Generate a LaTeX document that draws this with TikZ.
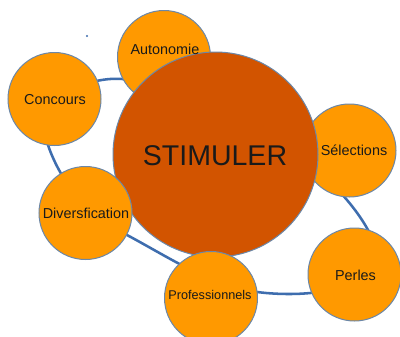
\documentclass[tikz,border=0pt]{standalone}
\usepackage{fontspec}
\setmainfont{Liberation Sans}
\definecolor{bubfill}{HTML}{FF9900}
\definecolor{bigfill}{HTML}{D25400}
\definecolor{bubedge}{HTML}{6B87A8}
\definecolor{ringblue}{HTML}{3E6DAE}
\definecolor{ink}{HTML}{1A1A1A}
\begin{document}
\begin{tikzpicture}[x=0.75pt,y=-0.75pt,
  bubble/.style={circle, draw=bubedge, line width=0.75pt, fill=bubfill, minimum size=69.75pt, inner sep=0pt},
  bigbubble/.style={circle, draw=bubedge, line width=0.75pt, fill=bigfill, minimum size=153.75pt, inner sep=0pt},
  lbl/.style={text=ink, font=\fontsize{10.8}{13}\selectfont, inner sep=0pt},
  ringline/.style={draw=ringblue, line width=1.9pt}]
\useasboundingbox (0,0) rectangle (400,336);
\fill[white] (0,0) rectangle (400,336);
% ring behind the bubbles
\draw[ringline] (110,79) .. controls (70,82) and (38,110) .. (48,145)
  .. controls (58,175) and (85,218) .. (127,235)
  .. controls (170,258) and (215,288) .. (257,292)
  .. controls (320,300) and (400,285) .. (368,230)
  .. controls (330,160) and (200,75) .. (110,79) -- cycle;
\fill[ringblue] (87,36) circle (1.2);
% bubbles behind the big circle
\node[bubble] (nAuto) at (164,57) {};
\node[bubble] (nSel) at (349.5,150.5) {};
% big circle
\node[bigbubble] (nStim) at (215.5,154.5) {};
% bubbles in front
\node[bubble] (nDiv) at (85.5,213) {};
\node[bubble] (nProf) at (211,298) {};
\node[bubble] (nConc) at (54.5,99) {};
\node[bubble] (nPerl) at (354.5,274.5) {};
% labels
\node[lbl] (tAuto) at (165,49) {Autonomie};
\node[lbl] (tSel) at (354,150) {Sélections};
\node[lbl, font=\fontsize{21.4}{25}\selectfont] (tStim) at (215,156) {STIMULER};
\node[lbl] (tDiv) at (86,213) {Diversfication};
\node[lbl, font=\fontsize{9.5}{11}\selectfont] (tProf) at (210,295) {Professionnels};
\node[lbl] (tConc) at (55,100) {Concours};
\node[lbl] (tPerl) at (355.5,275) {Perles};
\end{tikzpicture}
\end{document}
